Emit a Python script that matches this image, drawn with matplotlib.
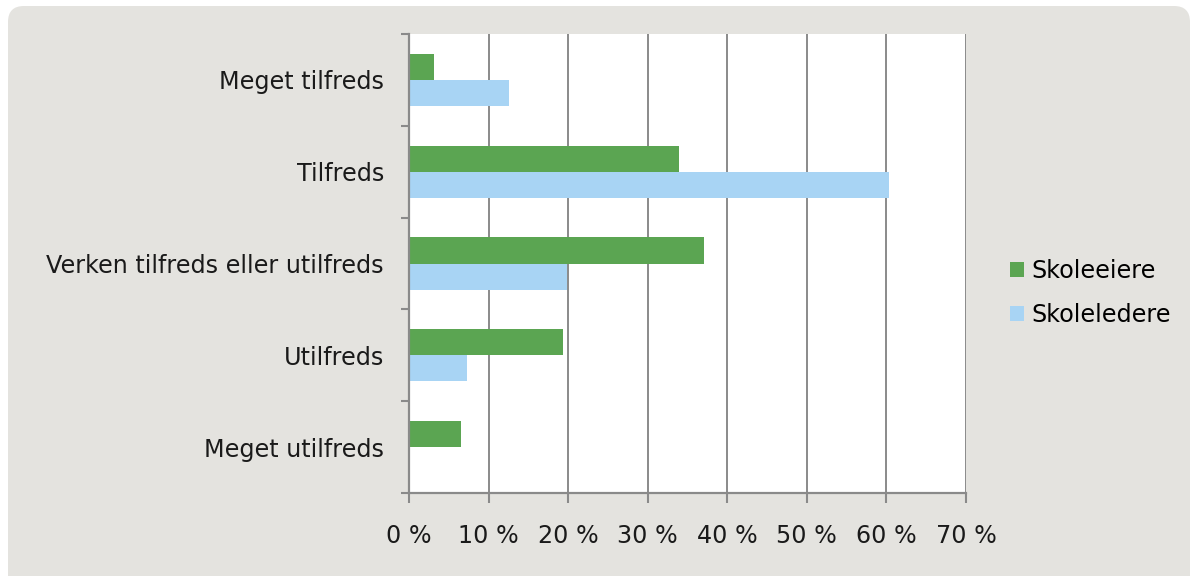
import numpy as np
import matplotlib.pyplot as plt
from matplotlib.patches import FancyBboxPatch

categories = ["Meget tilfreds", "Tilfreds", "Verken tilfreds eller utilfreds",
              "Utilfreds", "Meget utilfreds"]
skoleeiere = [3.2, 33.9, 37.1, 19.4, 6.5]
skoleledere = [12.6, 60.3, 19.8, 7.3, 0.0]
x_ticks = [0, 10, 20, 30, 40, 50, 60, 70]

green = "#5ba552"
blue = "#a8d4f4"
panel = "#e4e3df"
axis_grey = "#8a8a8a"
fs = 17.2

plt.rcParams["font.family"] = ["DejaVu Sans"]

W, H = 1193, 576
fig = plt.figure(figsize=(W / 100, H / 100), dpi=100)
fig.patch.set_facecolor("white")

# rounded grey panel behind everything, laid out in pixel units
bg = fig.add_axes([0, 0, 1, 1], zorder=-10)
bg.set_xlim(0, W)
bg.set_ylim(H, 0)
bg.axis("off")
bg.add_patch(FancyBboxPatch((8, 6), 1182, 600,
                            boxstyle="round,pad=0,rounding_size=16",
                            facecolor=panel, edgecolor="none"))

ax = fig.add_axes([409 / W, 1 - 493 / H, 557 / W, 459 / H])
ax.set_facecolor("white")

y = np.arange(len(categories))
h = 0.285
ax.barh(y - h / 2, skoleeiere, height=h, color=green, label="Skoleeiere", zorder=3)
ax.barh(y + h / 2, skoleledere, height=h, color=blue, label="Skoleledere", zorder=3)

ax.set_xlim(0, 70)
ax.set_ylim(len(categories) - 0.5, -0.5)
ax.set_xticks(x_ticks)
ax.set_xticklabels([f"{t} %" for t in x_ticks], fontsize=fs, color="#1a1a1a")
ax.set_yticks(y)
ax.set_yticklabels(categories, fontsize=fs, color="#1a1a1a")
ax.set_yticks(np.arange(-0.5, len(categories), 1.0), minor=True)

ax.tick_params(axis="y", which="major", length=0, pad=18)
ax.tick_params(axis="y", which="minor", length=6, width=1.5, color=axis_grey)
ax.tick_params(axis="x", length=7, width=1.5, color=axis_grey, pad=15)

ax.grid(axis="x", color=axis_grey, linewidth=1.4, zorder=1)
for side in ["top", "right"]:
    ax.spines[side].set_visible(False)
for side in ["left", "bottom"]:
    ax.spines[side].set_color(axis_grey)
    ax.spines[side].set_linewidth(1.6)
    ax.spines[side].set_zorder(4)

fig.legend(loc="center left", bbox_to_anchor=(998 / W, 1 - 293 / H),
           frameon=False, fontsize=fs, handlelength=0.6, handleheight=0.6,
           handletextpad=0.3, labelspacing=0.85, borderpad=0)

fig.savefig("out.png", dpi=100, facecolor=fig.get_facecolor())
